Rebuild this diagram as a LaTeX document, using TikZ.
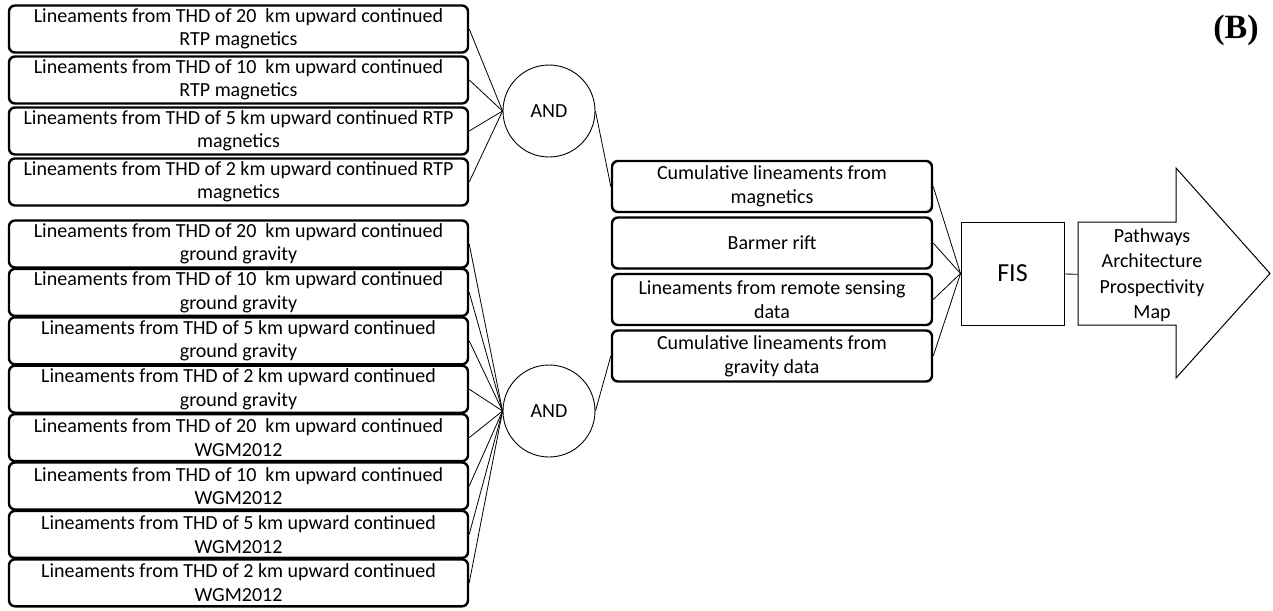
\documentclass[tikz,border=0pt]{standalone}
\usepackage{fontspec}
\setmainfont{Carlito}
\newfontfamily\panelfont{Liberation Serif}
\begin{document}
\begin{tikzpicture}[x=1pt,y=-1pt,
  linbox/.style={draw,line width=2.4pt,rounded corners=6pt,minimum width=459pt,minimum height=47pt,inner sep=0pt,align=center,font=\fontsize{20}{23.5}\selectfont},
  cumbox/.style={draw,line width=2.4pt,rounded corners=6pt,minimum width=320pt,minimum height=51pt,inner sep=0pt,align=center,font=\fontsize{20}{24}\selectfont},
  andnode/.style={draw,circle,line width=0.9pt,minimum size=92pt,inner sep=0pt,font=\fontsize{20}{24}\selectfont},
  link/.style={line width=0.8pt}]

\useasboundingbox (0,0) rectangle (1273,610);

%magnetic lineaments
\node[linbox] (mag20) at (238.5,29) {Lineaments from THD of 20 \ km upward continued\\RTP magnetics};
\node[linbox] (mag10) at (238.5,80) {Lineaments from THD of 10 \ km upward continued\\RTP magnetics};
\node[linbox] (mag5) at (238.5,131) {Lineaments from THD of 5 km upward continued RTP\\magnetics};
\node[linbox] (mag2) at (238.5,182) {Lineaments from THD of 2 km upward continued RTP\\magnetics};

%gravity lineaments
\node[linbox] (grv20) at (238.5,244) {Lineaments from THD of 20 \ km upward continued\\ground gravity};
\node[linbox] (grv10) at (238.5,292.4) {Lineaments from THD of 10 \ km upward continued\\ground gravity};
\node[linbox] (grv5) at (238.5,340.8) {Lineaments from THD of 5 km upward continued\\ground gravity};
\node[linbox] (grv2) at (238.5,389.2) {Lineaments from THD of 2 km upward continued\\ground gravity};
\node[linbox] (wgm20) at (238.5,437.6) {Lineaments from THD of 20 \ km upward continued\\WGM2012};
\node[linbox] (wgm10) at (238.5,486) {Lineaments from THD of 10 \ km upward continued\\WGM2012};
\node[linbox] (wgm5) at (238.5,534.4) {Lineaments from THD of 5 km upward continued\\WGM2012};
\node[linbox] (wgm2) at (238.5,582.8) {Lineaments from THD of 2 km upward continued\\WGM2012};

%AND operators
\node[andnode] (and1) at (549,111) {AND};
\node[andnode] (and2) at (549,411) {AND};

%FIS inputs
\node[cumbox] (cmag) at (772,186.5) {Cumulative lineaments from\\magnetics};
\node[cumbox] (rift) at (772,243) {Barmer rift};
\node[cumbox] (rs) at (772,299.5) {Lineaments from remote sensing\\data};
\node[cumbox] (cgrv) at (772,356) {Cumulative lineaments from\\gravity data};

\node[draw,line width=1pt,minimum size=103pt,inner sep=0pt,font=\fontsize{26}{30}\selectfont] (fis) at (1012.5,273.5) {FIS};

%output arrow
\node[minimum width=148pt,minimum height=103pt,inner sep=0pt,align=center,font=\fontsize{20}{25.5}\selectfont] (map) at (1152,275) {Pathways\\Architecture\\Prospectivity\\Map};
\draw[line width=1pt,line join=miter] (1078,222) -- (1176,222) -- (1176,168) -- (1270,273.5) -- (1176,378) -- (1176,325) -- (1078,325) -- cycle;

\node[font=\panelfont\bfseries\fontsize{34}{40}\selectfont] (panel) at (1236,30) {(B)};

%connectors
\foreach \n in {mag20,mag10,mag5,mag2}
  \draw[link] (\n.east) -- (and1.west);
\foreach \n in {grv20,grv10,grv5,grv2,wgm20,wgm10,wgm5,wgm2}
  \draw[link] (\n.east) -- (and2.west);
\draw[link] (and1.east) -- (cmag.west);
\draw[link] (and2.east) -- (cgrv.west);
\foreach \n in {cmag,rift,rs,cgrv}
  \draw[link] (\n.east) -- (fis.west);
\draw[link] (fis) -- (map);
\end{tikzpicture}
\end{document}
